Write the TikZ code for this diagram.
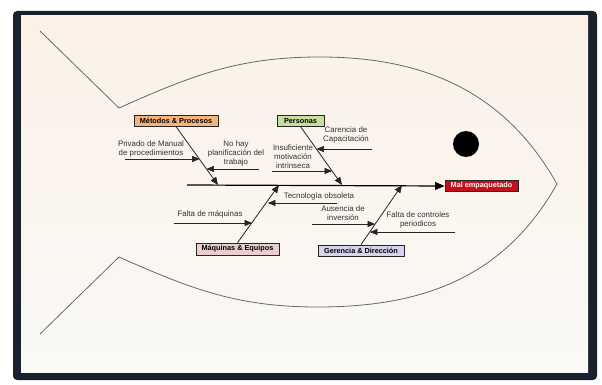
\documentclass[tikz,border=0pt]{standalone}
\usepackage{fontspec}
\setmainfont{Liberation Sans}
\usetikzlibrary{arrows}
\usetikzlibrary{positioning}
\definecolor{framedark}{RGB}{26,33,46}
\definecolor{paper}{RGB}{251,241,231}
\definecolor{paperlow}{RGB}{250,249,246}
\definecolor{fishline}{RGB}{105,105,105}
\definecolor{metfill}{RGB}{246,180,124}
\definecolor{perfill}{RGB}{198,223,160}
\definecolor{maqfill}{RGB}{232,206,204}
\definecolor{gerfill}{RGB}{214,211,238}
\definecolor{efffill}{RGB}{196,16,28}
\tikzstyle{category}=[rectangle,draw=black!85,line width=0.7pt,inner sep=0mm,minimum height=10.5pt,font=\fontsize{7.3}{8}\selectfont\bfseries]
\tikzstyle{note}=[align=center,inner sep=0pt,text=black!80,font=\fontsize{7.9}{9}\selectfont]
\tikzstyle{arrow}=[->,>=triangle 45]
\tikzstyle{bone}=[line width=0.8pt,black!85]
\tikzstyle{sub}=[line width=0.7pt,black!85]

\begin{document}
\begin{tikzpicture}[x=1pt,y=-1pt]
    \useasboundingbox (0,0) rectangle (602,385);
    % frame and paper
    \fill[framedark,rounded corners=4pt] (13,11) rectangle (597,380);
    \shade[top color=paper,bottom color=paperlow] (21,16) rectangle (588,372);
    % fish outline
    \draw[fishline,line width=0.8pt] (40,31) -- (119,108)
        .. controls (193,75) and (239,57) .. (320,57)
        .. controls (425,57) and (505,92) .. (557,184)
        .. controls (505,276) and (425,307) .. (318,307)
        .. controls (239,307) and (193,290) .. (119,257) -- (40,334);
    \fill[black] (466,144) circle (13);
    % head and spine
    \node[category,fill=efffill,text=white,minimum width=73pt] at (481.5,186) (effect) {Mal empaquetado};
    \coordinate (tail) at (187,185);
    \draw[arrow,line width=1.2pt] (tail) -- (effect.west);
    % categories
    \node[category,fill=metfill,minimum width=84pt] at (176,121) (metodos) {Métodos \& Procesos};
    \node[category,fill=perfill,minimum width=47pt] at (300.5,121) (personas) {Personas};
    \node[category,fill=maqfill,minimum width=83pt,minimum height=12pt] at (237.5,249) (maquinas) {Máquinas \& Equipos};
    \node[category,fill=gerfill,minimum width=86pt,minimum height=11pt] at (361,250.5) (gerencia) {Gerencia \& Dirección};
    \coordinate (metodos-end) at (218,185);
    \coordinate (personas-end) at (342,185);
    \coordinate (maquinas-end) at (279,185);
    \coordinate (gerencia-end) at (402,185);
    \draw[arrow,bone] (metodos.south) -- (metodos-end);
    \draw[arrow,bone] (personas.south) -- (personas-end);
    \draw[arrow,bone] (maquinas.north) -- (maquinas-end);
    \draw[arrow,bone] (gerencia.north) -- (gerencia-end);
    % causes
    \node[note] at (151,149) (privado) {Privado de Manual\\de procedimientos};
    \node[note] at (236,153) (nohay) {No hay\\planificación del\\trabajo};
    \node[note] at (346,135) (carencia) {Carencia de\\Capacitación};
    \node[note] at (293,157) (insuf) {Insuficiente\\motivación\\intrinseca};
    \node[note] at (319,196) (tecno) {Tecnología obsoleta};
    \node[note] at (210,214) (faltamaq) {Falta de máquinas};
    \node[note] at (343,213.5) (ausencia) {Ausencia de\\inversión};
    \node[note] at (418,220) (faltacon) {Falta de controles\\periodicos};
    \coordinate (m1a) at (125,159);   \coordinate (m1b) at (199.5,159);
    \coordinate (m2a) at (259,169);   \coordinate (m2b) at (206.5,169);
    \coordinate (p1a) at (372,149);   \coordinate (p1b) at (316.5,149);
    \coordinate (p2a) at (272,171);   \coordinate (p2b) at (332,171);
    \coordinate (q1a) at (337,203);   \coordinate (q1b) at (268,203);
    \coordinate (q2a) at (174,223);   \coordinate (q2b) at (252,223);
    \coordinate (g1a) at (312,224);   \coordinate (g1b) at (375,224);
    \coordinate (g2a) at (455,232);   \coordinate (g2b) at (370,232);
    \draw[arrow,sub] (m1a) -- (m1b);
    \draw[arrow,sub] (m2a) -- (m2b);
    \draw[arrow,sub] (p1a) -- (p1b);
    \draw[arrow,sub] (p2a) -- (p2b);
    \draw[arrow,sub] (q1a) -- (q1b);
    \draw[arrow,sub] (q2a) -- (q2b);
    \draw[arrow,sub] (g1a) -- (g1b);
    \draw[arrow,sub] (g2a) -- (g2b);
\end{tikzpicture}
\end{document}
